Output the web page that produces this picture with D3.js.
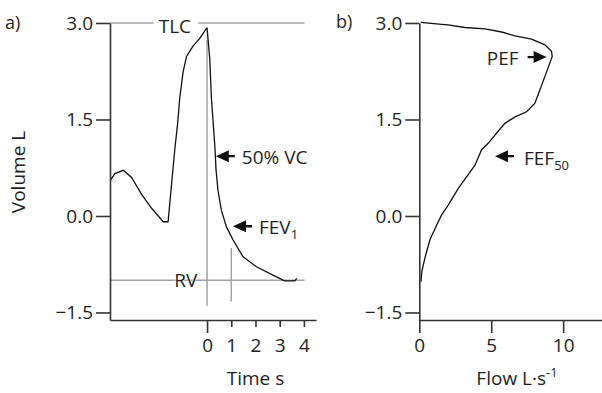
<!DOCTYPE html>
<head>
  <meta charset="utf-8">
  <script src="https://d3js.org/d3.v7.min.js"></script>
  <style>
    body {
      margin: 0;
      background: #fff;
    }

    text {
      font-family: "Open Sans", "Noto Sans", sans-serif;
      fill: #231f20;
    }

    .axis path,
    .axis line {
      stroke: #333;
      stroke-width: 1.6px;
    }

    .axis text {
      font-size: 19px;
    }

    .ref {
      stroke: #a3a3a3;
      stroke-width: 1.5px;
    }

    .curve {
      fill: none;
      stroke: #111;
      stroke-width: 1.3px;
    }
  </style>
</head>

<body>
  <svg id="chart" width="602" height="393"></svg>

  <script>
    // volume ticks shared by both panels
    var volTicks = [3.0, 1.5, 0.0, -1.5];
    var timeTicks = [0, 1, 2, 3, 4];
    var flowTicks = [0, 5, 10];

    // panel a: volume-time trace (time s, volume L)
    var timeVals = [-4.0, -3.81, -3.46, -3.12, -2.71, -2.29, -1.81, -1.61, -1.47, -1.33, -1.22, -1.13,
      -0.99, -0.85, -0.58, -0.30, -0.02, 0.0, 0.11, 0.18, 0.28, 0.33, 0.37, 0.45, 0.59, 0.80,
      1.07, 1.48, 2.04, 2.72, 3.20, 3.62, 3.71];
    var volA = [0.55, 0.66, 0.71, 0.60, 0.34, 0.12, -0.09, -0.09, 0.48, 1.05, 1.42, 1.83,
      2.24, 2.48, 2.64, 2.76, 2.92, 2.92, 2.45, 1.83, 1.31, 1.03, 0.72, 0.40, 0.09, -0.17,
      -0.37, -0.63, -0.79, -0.92, -1.01, -1.01, -0.97];

    // panel b: flow-volume trace (flow L/s, volume L)
    var flowVals = [0.1, 1.56, 2.01, 3.17, 4.56, 5.72, 6.65, 7.81, 8.73, 9.19, 9.24, 8.85, 8.38,
      8.03, 7.46, 6.65, 5.95, 5.38, 4.79, 4.33, 3.87, 2.71, 2.01, 1.56, 1.21, 0.74, 0.44,
      0.28, 0.17, 0.12];
    var volB = [3.01, 2.98, 2.97, 2.93, 2.91, 2.86, 2.80, 2.75, 2.66, 2.56, 2.48, 2.24, 1.96,
      1.75, 1.62, 1.54, 1.44, 1.29, 1.13, 1.03, 0.79, 0.43, 0.17, 0.02, -0.14, -0.37, -0.61,
      -0.76, -0.87, -1.02];

    // reference lines in panel a
    var hLines = [
      { v: 3.0, t0: -4.01, t1: -2.2 },
      { v: 3.0, t0: -0.37, t1: 4.03 },
      { v: -1.0, t0: -4.01, t1: 4.03 }
    ];
    var vLines = [
      { t: 0, v0: 2.74, v1: -1.4 },
      { t: 1, v0: -0.5, v1: -1.33 }
    ];

    // arrow annotations: tip position in data units
    var arrowsA = [
      { t: 0.36, v: 0.93, label: "50% VC", sub: "" },
      { t: 1.07, v: -0.16, label: "FEV", sub: "1" }
    ];
    var arrowsB = [
      { f: 5.26, v: 0.93, label: "FEF", sub: "50", dir: "left" },
      { f: 8.85, v: 2.47, label: "PEF", sub: "", dir: "right" }
    ];

    var svg = d3.select("#chart");

    var y = d3.scaleLinear().domain([-1.617, 3.0]).range([320, 23]);
    var xA = d3.scaleLinear().domain([-4.01, 4.5]).range([110, 316]);
    var xB = d3.scaleLinear().domain([0, 12.7]).range([419.3, 602]);

    var line = d3.line();

    // ---- panel a ----
    var gA = svg.append("g");

    gA.selectAll(".hline")
      .data(hLines)
      .join("line")
      .attr("class", "ref")
      .attr("x1", d => xA(d.t0))
      .attr("x2", d => xA(d.t1))
      .attr("y1", d => y(d.v))
      .attr("y2", d => y(d.v));

    gA.selectAll(".vline")
      .data(vLines)
      .join("line")
      .attr("class", "ref")
      .attr("x1", d => xA(d.t))
      .attr("x2", d => xA(d.t))
      .attr("y1", d => y(d.v0))
      .attr("y2", d => y(d.v1));

    gA.append("path")
      .attr("class", "curve")
      .attr("d", line(timeVals.map((t, i) => [xA(t), y(volA[i])])));

    gA.append("g")
      .attr("class", "axis")
      .attr("transform", "translate(" + xA.range()[0] + ",0)")
      .call(d3.axisLeft(y).tickValues(volTicks).tickSize(14).tickSizeOuter(0).tickPadding(3)
        .tickFormat(d3.format(".1f")));

    var axA = gA.append("g")
      .attr("class", "axis")
      .attr("transform", "translate(0," + y.range()[0] + ")")
      .call(d3.axisBottom(xA).tickValues(timeTicks).tickSize(7).tickSizeOuter(0).tickPadding(12));
    axA.selectAll(".tick line").filter(d => d === 0).attr("y2", 13);

    gA.append("text")
      .attr("x", xA(-1.33))
      .attr("y", y(3.0) + 10)
      .attr("text-anchor", "middle")
      .style("font-size", "19px")
      .text("TLC");

    gA.append("text")
      .attr("x", xA(-0.88))
      .attr("y", y(-1.0) + 7)
      .attr("text-anchor", "middle")
      .style("font-size", "19px")
      .style("stroke", "#fff")
      .style("stroke-width", "1px")
      .style("paint-order", "stroke")
      .text("RV");

    function leftArrow(g, px, py) {
      g.append("path")
        .attr("d", "M" + px + "," + py + "l13,-6v4.8h6v2.4h-6v4.8z")
        .style("fill", "#111");
    }

    function rightArrow(g, px, py) {
      g.append("path")
        .attr("d", "M" + px + "," + py + "l-13,-6v4.8h-6v2.4h6v4.8z")
        .style("fill", "#111");
    }

    arrowsA.forEach(function (a) {
      var px = xA(a.t), py = y(a.v);
      leftArrow(gA, px, py);
      var txt = gA.append("text")
        .attr("x", px + 26)
        .attr("y", py + 8)
        .style("font-size", "19px")
        .text(a.label);
      if (a.sub) {
        txt.append("tspan")
          .attr("dy", 5)
          .style("font-size", "13px")
          .text(a.sub);
      }
    });

    gA.append("text")
      .attr("x", xA(2))
      .attr("y", 385)
      .attr("text-anchor", "middle")
      .style("font-size", "19px")
      .text("Time s");

    gA.append("text")
      .attr("transform", "translate(25,172) rotate(-90)")
      .attr("text-anchor", "middle")
      .style("font-size", "19px")
      .text("Volume L");

    gA.append("text")
      .attr("x", 5)
      .attr("y", 29)
      .style("font-size", "18px")
      .text("a)");

    // ---- panel b ----
    var gB = svg.append("g");

    gB.append("path")
      .attr("class", "curve")
      .attr("d", line(flowVals.map((f, i) => [xB(f), y(volB[i])])));

    gB.append("g")
      .attr("class", "axis")
      .attr("transform", "translate(" + xB.range()[0] + ",0)")
      .call(d3.axisLeft(y).tickValues(volTicks).tickSize(14).tickSizeOuter(0).tickPadding(3)
        .tickFormat(d3.format(".1f")));

    gB.append("g")
      .attr("class", "axis")
      .attr("transform", "translate(0," + y.range()[0] + ")")
      .call(d3.axisBottom(xB).tickValues(flowTicks).tickSize(13).tickSizeOuter(0).tickPadding(6));

    arrowsB.forEach(function (a) {
      var px = xB(a.f), py = y(a.v);
      if (a.dir === "left") {
        leftArrow(gB, px, py);
        var txt = gB.append("text")
          .attr("x", px + 29)
          .attr("y", py + 9)
          .style("font-size", "19px")
          .text(a.label);
        txt.append("tspan")
          .attr("dy", 5)
          .style("font-size", "13px")
          .text(a.sub);
      } else {
        rightArrow(gB, px, py);
        gB.append("text")
          .attr("x", px - 28)
          .attr("y", py + 8)
          .attr("text-anchor", "end")
          .style("font-size", "19px")
          .text(a.label);
      }
    });

    var flowLabel = gB.append("text")
      .attr("x", 517)
      .attr("y", 385)
      .attr("text-anchor", "middle")
      .style("font-size", "19px")
      .text("Flow L·s");
    flowLabel.append("tspan")
      .attr("dy", -8)
      .style("font-size", "13px")
      .text("-1");

    gB.append("text")
      .attr("x", 336)
      .attr("y", 28)
      .style("font-size", "18px")
      .text("b)");
  </script>
</body>
